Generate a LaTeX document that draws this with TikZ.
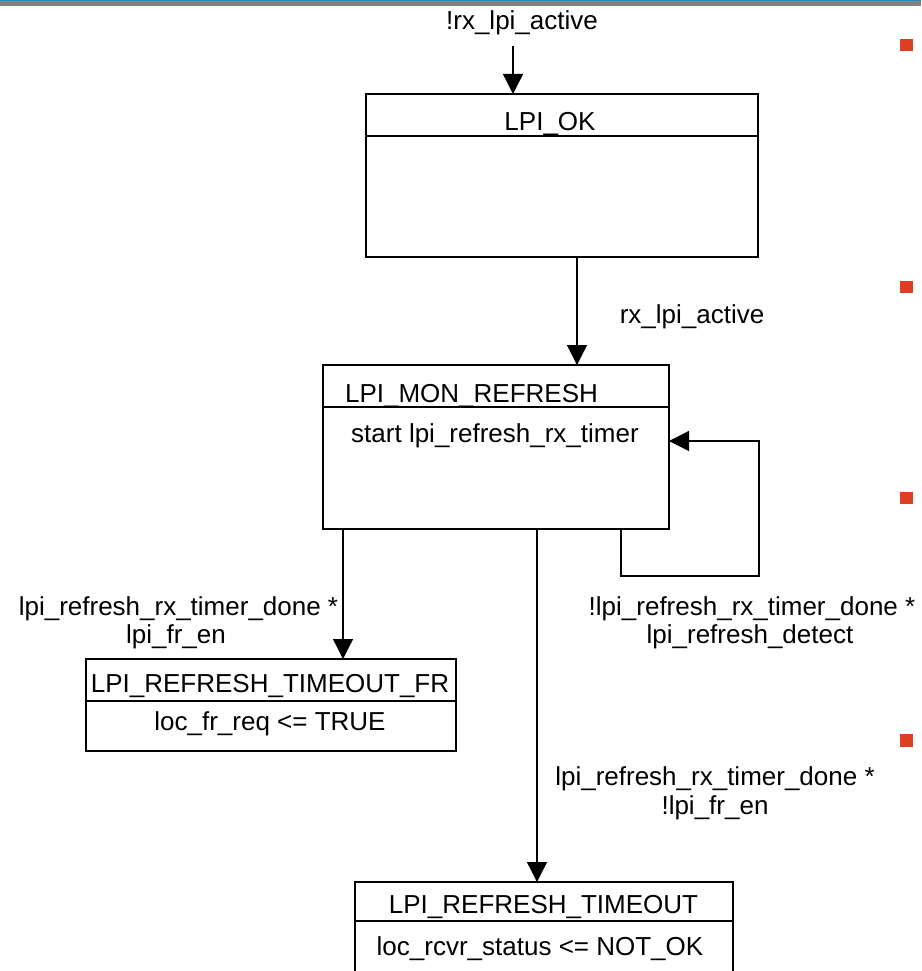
\documentclass[tikz,border=0pt]{standalone}
\usepackage{fontspec}
\setmainfont{Liberation Sans}
\usetikzlibrary{arrows.meta}
\definecolor{barblue}{RGB}{40,140,190}
\definecolor{bargray}{RGB}{128,128,128}
\definecolor{bulletred}{RGB}{222,62,36}
\begin{document}
\begin{tikzpicture}[x=1pt,y=-1pt,
  statebox/.style={draw, line width=1.5pt, inner sep=0pt, outer sep=0pt, rectangle},
  lbl/.style={inner sep=0pt, anchor=base, font=\fontsize{26}{29}\selectfont},
  arr/.style={line width=1.3pt, -{Triangle[length=20pt,width=20pt]}},
  bullet/.style={fill=bulletred, draw=none, inner sep=0pt, minimum width=13pt, minimum height=12.5pt},
  hdr/.style={line width=1.5pt}]
\useasboundingbox (0,0) rectangle (921,971);
\clip (0,0) rectangle (921,971);

% top rule
\fill[bargray] (0,1) rectangle (921,6);
\fill[barblue] (0,0) rectangle (921,1.3);

% bullets in the right margin
\node[bullet] (b1) at (906.5,45) {};
\node[bullet] (b2) at (906.5,287) {};
\node[bullet] (b3) at (906.5,498) {};
\node[bullet] (b4) at (906.5,740.5) {};

% states
\node[statebox, minimum width=392, minimum height=163] (ok) at (562,175.5) {};
\draw[hdr] ([yshift=-42]ok.north west) -- ([yshift=-42]ok.north east);
\node[lbl] (okt) at (550,131) {LPI\_OK};

\node[statebox, minimum width=346, minimum height=164] (mon) at (496,447) {};
\draw[hdr] ([yshift=-42]mon.north west) -- ([yshift=-42]mon.north east);
\node[lbl] (mont) at (471.5,402) {LPI\_MON\_REFRESH};
\node[lbl] (mona) at (495,442) {start lpi\_refresh\_rx\_timer};

\node[statebox, minimum width=370, minimum height=92] (fr) at (271,705) {};
\draw[hdr] ([yshift=-42]fr.north west) -- ([yshift=-42]fr.north east);
\node[lbl] (frt) at (270,692) {LPI\_REFRESH\_TIMEOUT\_FR};
\node[lbl] (fra) at (270,730) {loc\_fr\_req <= TRUE};

\node[statebox, minimum width=378, minimum height=108] (tmo) at (544,936) {};
\draw[hdr] ([yshift=-39]tmo.north west) -- ([yshift=-39]tmo.north east);
\node[lbl] (tmot) at (543.5,913) {LPI\_REFRESH\_TIMEOUT};
\node[lbl] (tmoa) at (540,955) {loc\_rcvr\_status <= NOT\_OK};

% transitions
\coordinate (entry) at (513,46);
\node[lbl] (c0) at (522,30) {!rx\_lpi\_active};
\draw[arr] (entry) -- ([xshift=-49]ok.north);

\draw[arr] ([xshift=15]ok.south) -- ([xshift=81]mon.north);
\node[lbl] (c1) at (692,323) {rx\_lpi\_active};

\draw[arr] ([xshift=125]mon.south) -- ++(0,47) -- ++(138,0) -- ++(0,-135) -- ([yshift=6]mon.east);
\node[lbl] (c2a) at (752,615) {!lpi\_refresh\_rx\_timer\_done *};
\node[lbl] (c2b) at (750,643) {lpi\_refresh\_detect};

\draw[arr] ([xshift=-153]mon.south) -- ([xshift=72]fr.north);
\node[lbl] (c3a) at (178.5,615) {lpi\_refresh\_rx\_timer\_done *};
\node[lbl] (c3b) at (176,643) {lpi\_fr\_en};

\draw[arr] ([xshift=41]mon.south) -- ([xshift=-7]tmo.north);
\node[lbl] (c4a) at (715,785) {lpi\_refresh\_rx\_timer\_done *};
\node[lbl] (c4b) at (715,814) {!lpi\_fr\_en};
\end{tikzpicture}
\end{document}
